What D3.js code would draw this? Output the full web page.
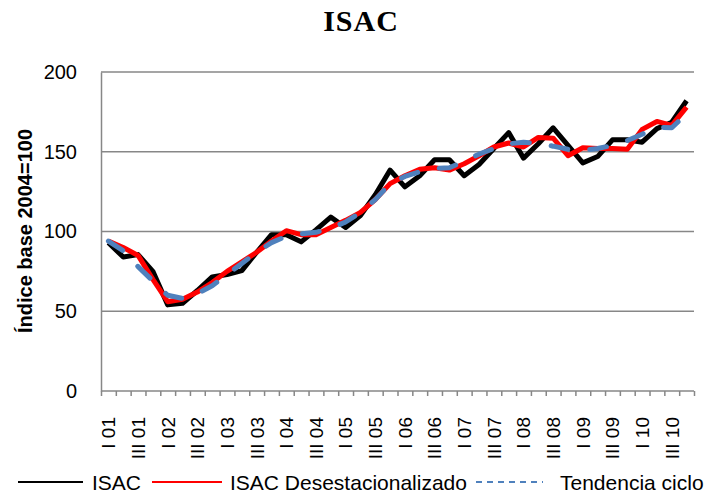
<!DOCTYPE html>
<html>
<head>
	<meta charset="utf-8">
	<title>ISAC</title>
	<script src="https://d3js.org/d3.v7.min.js"></script>
	<style>
		body { margin: 0; background: #fff; }
		text { font-family: "Liberation Sans", Arial, sans-serif; fill: #000; }
	</style>
</head>
<body>
<svg id="chart" width="718" height="498"></svg>

<script type="text/javascript">
	// etiquetas de trimestres y años
	let quarters = ["I", "II", "III", "IV"];
	let years = ["01", "02", "03", "04", "05", "06", "07", "08", "09", "10"];
	let categories = [];
	years.forEach(function(y){ quarters.forEach(function(q){ categories.push(q + " " + y); }); });

	// series (índice base 2004=100)
	let isac = [93, 84, 85.5, 75, 54, 55, 63, 71.5, 73, 75.5,
		87, 98, 98, 93.5, 101, 109, 102.5, 110, 123, 138.5,
		128, 135, 145, 145, 135, 142, 152, 162, 146, 155,
		165, 154, 143, 147, 157.5, 157.5, 156, 164.5, 168.5, 182];
	let desest = [94, 90, 85, 70, 56, 57.5, 62, 68, 75, 81,
		87, 94, 100.5, 98, 98, 102.5, 107, 112, 120, 130,
		135, 139, 140, 138.5, 142.5, 147.5, 153, 155.5, 153, 159,
		158.5, 147.5, 152.5, 152, 152, 151.5, 164, 169, 166.5, 178];
	let tendencia = [94, 88, 78, 69, 60, 58, 61, 66, 73, 80,
		87, 93, 97, 98.5, 99.5, 102, 106, 112, 120, 130,
		134.5, 137.5, 139.5, 140, 144, 148.5, 152, 155, 156, 155,
		153.5, 151.5, 151, 152, 154, 157, 161, 165.5, 165, 174];
	let yTicks = [0, 50, 100, 150, 200];
	let seriesNames = ["ISAC", "ISAC Desestacionalizado", "Tendencia ciclo"];

	let svg = d3.select("#chart");
	let plotLeft = 101, plotRight = 694, plotTop = 72, plotBottom = 391;

	let x = d3.scaleBand().domain(categories).range([plotLeft, plotRight]).padding(0);
	let xEdge = d3.scaleLinear().domain([0, categories.length]).range([plotLeft, plotRight]);
	let y = d3.scaleLinear().domain([0, 200]).range([plotBottom, plotTop]);

	// título
	svg.append("text")
		.attr("x", 361).attr("y", 31)
		.attr("text-anchor", "middle")
		.style("font-family", "'Liberation Serif', 'Times New Roman', serif")
		.style("font-weight", "bold")
		.style("font-size", "30px")
		.style("letter-spacing", "1px")
		.text("ISAC");

	// líneas de la grilla
	svg.append("g")
		.selectAll("line")
		.data(yTicks.filter(function(d){ return d > 0; }))
		.enter().append("line")
		.attr("x1", plotLeft).attr("x2", plotRight)
		.attr("y1", function(d){ return y(d); })
		.attr("y2", function(d){ return y(d); })
		.attr("stroke", "#878787")
		.attr("stroke-width", 1.5);

	// eje y
	let yAxis = svg.append("g")
		.attr("transform", "translate(" + plotLeft + ",0)")
		.call(d3.axisLeft(y).tickValues(yTicks).tickSize(0).tickPadding(24));
	yAxis.select(".domain").attr("stroke", "#878787").attr("stroke-width", 1.5);
	yAxis.selectAll("text").style("font-size", "20px").style("font-family", "'Liberation Sans', Arial, sans-serif");

	svg.append("text")
		.attr("transform", "translate(32,231) rotate(-90)")
		.attr("text-anchor", "middle")
		.style("font-weight", "bold")
		.style("font-size", "20px")
		.text("Índice base 2004=100");

	// eje x: marcas en los bordes de cada trimestre
	let xAxis = svg.append("g")
		.attr("transform", "translate(0," + plotBottom + ")")
		.call(d3.axisBottom(xEdge).tickValues(d3.range(categories.length + 1)).tickSize(5).tickFormat(""));
	xAxis.select(".domain").attr("stroke", "#878787").attr("stroke-width", 1.5).attr("d", "M" + plotLeft + ",0H" + plotRight);
	xAxis.selectAll(".tick line").attr("stroke", "#878787").attr("stroke-width", 1.5);

	svg.append("g")
		.selectAll("text")
		.data(categories.filter(function(d, i){ return i % 2 == 0; }))
		.enter().append("text")
		.attr("transform", function(d){ return "translate(" + (x(d) + x.bandwidth()/2) + ",417) rotate(-90)"; })
		.attr("text-anchor", "end")
		.attr("dy", "0.36em")
		.style("font-size", "19px")
		.text(function(d){ return d; });

	// series
	let line = d3.line()
		.x(function(d, i){ return x(categories[i]) + x.bandwidth()/2; })
		.y(function(d){ return y(d); });

	svg.append("path").datum(isac)
		.attr("d", line).attr("fill", "none")
		.attr("stroke", "#000").attr("stroke-width", 5).attr("stroke-linejoin", "round");
	svg.append("path").datum(desest)
		.attr("d", line).attr("fill", "none")
		.attr("stroke", "#ff0000").attr("stroke-width", 5).attr("stroke-linejoin", "round");
	svg.append("path").datum(tendencia)
		.attr("d", line).attr("fill", "none")
		.attr("stroke", "#4f81bd").attr("stroke-width", 5)
		.attr("stroke-linecap", "round").attr("stroke-linejoin", "round")
		.attr("stroke-dasharray", "17,22");

	// leyenda
	let legend = [
		{ x1: 18, x2: 83, tx: 92, color: "#000", dash: null },
		{ x1: 152, x2: 222, tx: 230, color: "#ff0000", dash: null },
		{ x1: 476, x2: 543, tx: 560, color: "#4f81bd", dash: "6,5" }
	];
	legend.forEach(function(l, i){
		svg.append("line")
			.attr("x1", l.x1).attr("x2", l.x2).attr("y1", 482).attr("y2", 482)
			.attr("stroke", l.color).attr("stroke-width", 2)
			.attr("stroke-dasharray", l.dash);
		svg.append("text")
			.attr("x", l.tx).attr("y", 490)
			.style("font-size", "21px")
			.text(seriesNames[i]);
	});
</script>
</body>
</html>
